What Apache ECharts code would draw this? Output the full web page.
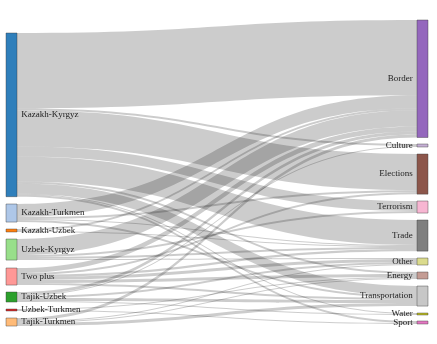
<!DOCTYPE html>
<html>
<head>
<meta charset="utf-8">
<script src="https://cdn.jsdelivr.net/npm/echarts@6/dist/echarts.min.js"></script>
<style>html,body{margin:0;padding:0;background:#fff}#c{width:437px;height:344px}</style>
</head>
<body>
<div id="c"></div>
<script>
const leftNodes = ["Kazakh-Kyrgyz","Kazakh-Turkmen","Kazakh-Uzbek","Uzbek-Kyrgyz","Two plus","Tajik-Uzbek","Uzbek-Turkmen","Tajik-Turkmen"];
const rightNodes = ["Border","Culture","Elections","Terrorism","Trade","Other","Energy","Transportation","Water","Sport"];
const leftColors = ["#2f7fbb","#aec7e8","#ff7f0e","#98df8a","#ff9896","#2ca02c","#d62728","#ffbb78"];
const rightColors = ["#9467bd","#c5b0d5","#8c564b","#f7b6d2","#7f7f7f","#dbdb8d","#c49c94","#c7c7c7","#bcbd22","#e377c2"];
const linkSources = [
  "Kazakh-Kyrgyz","Kazakh-Kyrgyz","Kazakh-Kyrgyz","Kazakh-Kyrgyz","Kazakh-Kyrgyz","Kazakh-Kyrgyz","Kazakh-Kyrgyz","Kazakh-Kyrgyz","Kazakh-Kyrgyz",
  "Kazakh-Turkmen","Kazakh-Turkmen","Kazakh-Turkmen","Kazakh-Turkmen",
  "Kazakh-Uzbek","Kazakh-Uzbek",
  "Uzbek-Kyrgyz","Uzbek-Kyrgyz","Uzbek-Kyrgyz","Uzbek-Kyrgyz",
  "Two plus","Two plus","Two plus","Two plus","Two plus","Two plus",
  "Tajik-Uzbek","Tajik-Uzbek","Tajik-Uzbek","Tajik-Uzbek","Tajik-Uzbek",
  "Uzbek-Turkmen","Uzbek-Turkmen",
  "Tajik-Turkmen","Tajik-Turkmen","Tajik-Turkmen","Tajik-Turkmen"
];
const linkTargets = [
  "Border","Culture","Elections","Terrorism","Trade","Energy","Transportation","Water","Sport",
  "Border","Elections","Trade","Transportation",
  "Border","Trade",
  "Border","Terrorism","Trade","Other",
  "Border","Elections","Trade","Other","Energy","Transportation",
  "Border","Culture","Other","Transportation","Water",
  "Energy","Sport",
  "Border","Other","Energy","Transportation"
];
const linkValues = [
  75,2,36,10,25,2,10,1,2,
  13,2,1,2,
  2,1,
  16,2,2,1,
  5,2,2,3,3,2,
  3,1,2,3,1,
  1,1,
  3,1,1,3
];
const leftTops = [33,204,229,239,268,292,309,318];
const rightTops = [20,144,154,201,220,258,272,286,313,321];

const layTop = 20, layH = 306;
const nodes = [];
leftNodes.forEach((n,i)=>nodes.push({name:n, localY:(leftTops[i]-layTop)/layH,
  itemStyle:{color:leftColors[i]}, label:{position:'right'}}));
rightNodes.forEach((n,i)=>nodes.push({name:n, localY:(rightTops[i]-layTop)/layH,
  itemStyle:{color:rightColors[i]}, label:{position:'left'}}));
const links = linkSources.map((s,i)=>({source:s, target:linkTargets[i], value:linkValues[i]}));

const chart = echarts.init(document.getElementById('c'), null, {renderer:'canvas'});
chart.setOption({
  animation:false,
  series:[{
    type:'sankey',
    left:6, right:9, top:layTop, bottom:344-layTop-layH,
    nodeWidth:11, nodeGap:7, layoutIterations:0, draggable:false,
    data:nodes, links:links,
    itemStyle:{borderColor:'rgba(60,60,60,0.7)', borderWidth:0.6},
    lineStyle:{color:'#000', opacity:0.2, curveness:0.5},
    label:{color:'#222', fontFamily:'Liberation Serif', fontSize:9, distance:4},
    emphasis:{disabled:true}
  }]
});
</script>
</body>
</html>
